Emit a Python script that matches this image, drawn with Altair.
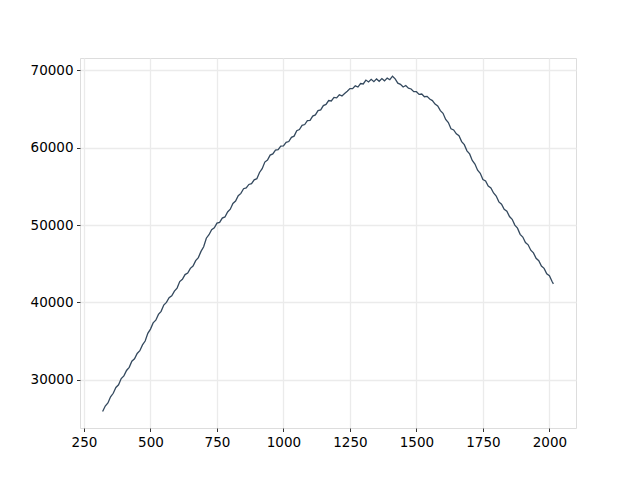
import altair as alt
import pandas as pd

x_vals = list(range(320, 2011, 10)) + [2015]

y_vals = [
    25900, 26600, 27000, 27800, 28250, 29000, 29350, 30150, 30500, 31200,
    31600, 32400, 32700, 33400, 33750, 34500, 35000, 36000, 36550, 37350,
    37700, 38450, 38850, 39650, 40000, 40600, 40850, 41450, 41850, 42700,
    43000, 43600, 43800, 44400, 44700, 45400, 45800, 46600, 47200, 48300,
    48750, 49400, 49650, 50250, 50350, 50900, 51050, 51700, 52050, 52800,
    53100, 53800, 54100, 54700, 54800, 55250, 55350, 55850, 56000, 56800,
    57300, 58150, 58400, 59050, 59200, 59700, 59750, 60200, 60250, 60700,
    60800, 61350, 61500, 62200, 62350, 62900, 63000, 63500, 63550, 64100,
    64250, 64800, 64900, 65450, 65600, 66100, 66050, 66500, 66450, 66850,
    66700, 67000, 67300, 67650, 67650, 68000, 67850, 68300, 68250, 68750,
    68500, 68850, 68550, 68900, 68600, 68950, 68650, 69000, 68800, 69250,
    68900, 68350, 68200, 67850, 68050, 67700, 67600, 67250, 67250, 66900,
    66950, 66600, 66650, 66300, 66100, 65650, 65400, 64800, 64450, 63650,
    63250, 62450, 62300, 61800, 61550, 60800, 60400, 59600, 59200, 58350,
    57900, 57100, 56700, 55900, 55700, 55050, 54800, 54150, 53750, 53000,
    52700, 52050, 51800, 51100, 50750, 50000, 49600, 48800, 48450, 47750,
    47450, 46750, 46400, 45700, 45400, 44700, 44400, 43700, 43450, 42700,
    42400,
]

x_ticks = [250, 500, 750, 1000, 1250, 1500, 1750, 2000]
y_ticks = [30000, 40000, 50000, 60000, 70000]

df = pd.DataFrame({"x": x_vals[:len(y_vals)], "y": y_vals})

axis_common = dict(
    domain=False,
    grid=True,
    gridColor="#ebebeb",
    gridWidth=1.3,
    ticks=True,
    tickColor="#000000",
    tickSize=3.5,
    tickWidth=0.8,
    labelFont="DejaVu Sans",
    labelFontSize=13.5,
    labelColor="#000000",
    labelPadding=3.5,
    title=None,
    format="d",
)

chart = (
    alt.Chart(df)
    .mark_line(color="#34495e", strokeWidth=1.3)
    .encode(
        x=alt.X(
            "x:Q",
            scale=alt.Scale(domain=[235, 2100], nice=False, zero=False),
            axis=alt.Axis(values=x_ticks, **axis_common),
        ),
        y=alt.Y(
            "y:Q",
            scale=alt.Scale(domain=[23760, 71605], nice=False, zero=False),
            axis=alt.Axis(values=y_ticks, **axis_common),
        ),
    )
    .properties(
        width=496,
        height=370,
        autosize=alt.AutoSizeParams(type="none"),
        padding={"left": 72, "top": 50, "right": 50, "bottom": 45},
    )
    .configure_view(stroke=None)
    .configure(background="#ffffff")
)

chart.save("out.html", embed_options={"renderer": "svg", "actions": False})
